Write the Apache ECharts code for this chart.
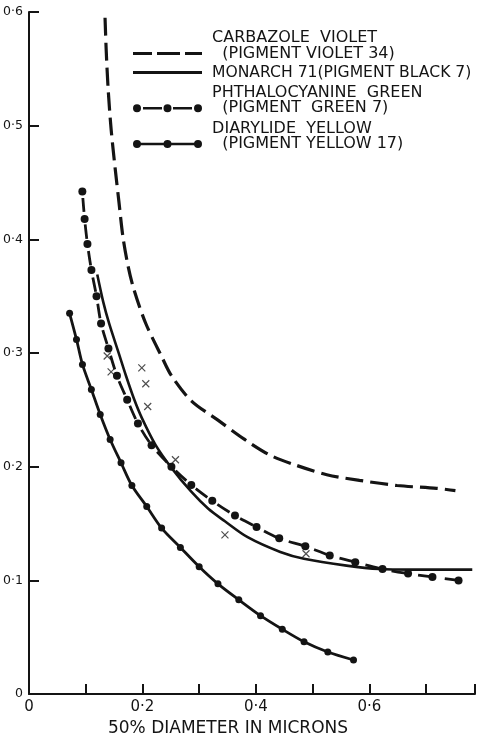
<!DOCTYPE html>
<html><head><meta charset="utf-8">
<script src="https://cdn.jsdelivr.net/npm/echarts@6/dist/echarts.min.js"></script>
<style>html,body{margin:0;padding:0;background:#fff}#c{width:478px;height:742px}</style>
</head><body><div id="c"></div>
<script>
// ---- tick labels ----
const xTickLabels = ['0', '', '0·2', '', '0·4', '', '0·6', ''];
const yTickLabels = ['0', '0·1', '0·2', '0·3', '0·4', '0·5', '0·6'];
const xAxisTitle = '50% DIAMETER IN MICRONS';

// ---- series names / legend labels ----
const violetName = 'CARBAZOLE VIOLET (PIGMENT VIOLET 34)';
const monarchName = 'MONARCH 71(PIGMENT BLACK 7)';
const greenName = 'PHTHALOCYANINE GREEN (PIGMENT GREEN 7)';
const yellowName = 'DIARYLIDE YELLOW (PIGMENT YELLOW 17)';
const violetLines = ['CARBAZOLE  VIOLET', '(PIGMENT VIOLET 34)'];
const monarchLines = ['MONARCH 71(PIGMENT BLACK 7)'];
const greenLines = ['PHTHALOCYANINE  GREEN', '(PIGMENT  GREEN 7)'];
const yellowLines = ['DIARYLIDE  YELLOW', '(PIGMENT YELLOW 17)'];

// ---- data ----
const violetX = [0.134, 0.136, 0.1395, 0.1447, 0.1517, 0.1587, 0.1656, 0.1744, 0.1848, 0.2058, 0.2337, 0.2511, 0.286, 0.333, 0.380, 0.4255, 0.4725, 0.5248, 0.5824, 0.6486, 0.7184, 0.7515];
const violetY = [0.595, 0.567, 0.532, 0.497, 0.463, 0.432, 0.402, 0.377, 0.356, 0.326, 0.297, 0.280, 0.258, 0.241, 0.224, 0.210, 0.201, 0.193, 0.188, 0.1835, 0.181, 0.179];

const monarchX = [0.1203, 0.1308, 0.1412, 0.1587, 0.1709, 0.1848, 0.1988, 0.2232, 0.2511, 0.286, 0.316, 0.3453, 0.3853, 0.4429, 0.4847, 0.5597, 0.6172, 0.6765, 0.7812];
const monarchY = [0.369, 0.345, 0.326, 0.299, 0.280, 0.260, 0.243, 0.219, 0.199, 0.178, 0.163, 0.152, 0.138, 0.125, 0.119, 0.113, 0.110, 0.1095, 0.1095];

const greenX = [0.094, 0.098, 0.103, 0.110, 0.119, 0.127, 0.140, 0.155, 0.173, 0.192, 0.216, 0.251, 0.286, 0.323, 0.363, 0.401, 0.441, 0.487, 0.530, 0.575, 0.623, 0.668, 0.711, 0.757];
const greenY = [0.442, 0.418, 0.396, 0.373, 0.350, 0.326, 0.304, 0.280, 0.259, 0.238, 0.219, 0.200, 0.184, 0.170, 0.157, 0.147, 0.137, 0.130, 0.122, 0.116, 0.110, 0.106, 0.103, 0.100];

const yellowX = [0.0715, 0.0837, 0.0942, 0.1099, 0.1255, 0.143, 0.1622, 0.1813, 0.2075, 0.2337, 0.2668, 0.2999, 0.333, 0.3697, 0.408, 0.4464, 0.4847, 0.5266, 0.5719];
const yellowY = [0.335, 0.312, 0.290, 0.268, 0.246, 0.224, 0.2035, 0.1835, 0.165, 0.146, 0.129, 0.112, 0.097, 0.083, 0.069, 0.057, 0.046, 0.037, 0.030];

const crossX = [0.1378, 0.1447, 0.1988, 0.2058, 0.2092, 0.2581, 0.3453, 0.4882];
const crossY = [0.2974, 0.2835, 0.287, 0.273, 0.253, 0.2061, 0.140, 0.1235];

const zip = (xs, ys) => xs.map((x, i) => [x, ys[i]]);
const INK = '#141414';
const FONT = 'DejaVu Sans';

// legend icon shapes (69 x 8 box)
const iconDash = 'path://M0,0H19V3H0Z M24,0H47V3H24Z M52,0H69V3H52Z';
const iconSolid = 'path://M0,0H69V2.8H0Z';
const dot = cx => `M${cx - 4},4 A4,4 0 1,1 ${cx + 4},4 A4,4 0 1,1 ${cx - 4},4 Z`;
const iconDotDash = 'path://' + dot(4) + ' ' + dot(34.5) + ' ' + dot(65) +
  ' M10,2.7H29V5.3H10Z M40,2.7H59V5.3H40Z';
const iconDotSolid = 'path://' + dot(4) + ' ' + dot(34.5) + ' ' + dot(65) +
  ' M7.5,2.7H31V5.3H7.5Z M38,2.7H61.5V5.3H38Z';

function legendText(lines) {
  if (lines.length === 1) return ' ' + lines[0];
  return ' ' + lines[0] + '\n   ' + lines[1] + '\n ';
}
function makeLegend(name, icon, lines, top, size) {
  return {
    data: [{ name: name, icon: icon }],
    left: 133, top: top, padding: 0,
    itemWidth: 69, itemHeight: 8,
    symbolKeepAspect: true,
    selectedMode: false,
    itemStyle: { color: INK, borderWidth: 0 },
    formatter: () => legendText(lines),
    textStyle: { fontFamily: FONT, fontSize: size, lineHeight: 15.5, color: INK }
  };
}

const chart = echarts.init(document.getElementById('c'), null, { renderer: 'canvas' });
chart.setOption({
  animation: false,
  backgroundColor: '#fff',
  color: [INK],
  grid: { left: 29, right: -2, top: 12, bottom: 40, containLabel: false },
  legend: [
    makeLegend(violetName, iconDash, violetLines, 30, 16),
    makeLegend(monarchName, iconSolid, monarchLines, 64.5, 15.6),
    makeLegend(greenName, iconDotDash, greenLines, 84.75, 16),
    makeLegend(yellowName, iconDotSolid, yellowLines, 120.5, 16)
  ],
  xAxis: {
    type: 'value', min: 0, max: 0.786, interval: 0.1,
    axisLine: { show: true, onZero: false, lineStyle: { color: INK, width: 2 } },
    axisTick: { show: true, inside: true, length: 10, lineStyle: { color: INK, width: 2 } },
    splitLine: { show: false },
    axisLabel: {
      margin: 6, fontFamily: FONT, fontSize: 15, color: INK,
      formatter: v => { const k = v * 10, r = Math.round(k); return Math.abs(k - r) < 1e-6 ? (xTickLabels[r] || '') : ''; }
    },
    name: xAxisTitle, nameLocation: 'middle', nameGap: 22,
    nameTextStyle: { fontFamily: FONT, fontSize: 17, color: INK, padding: [0, 48, 0, 0] }
  },
  yAxis: {
    type: 'value', min: 0, max: 0.6, interval: 0.1,
    axisLine: { show: true, lineStyle: { color: INK, width: 2 } },
    axisTick: { show: true, inside: true, length: 10, lineStyle: { color: INK, width: 2 } },
    splitLine: { show: false },
    axisLabel: {
      margin: 6, fontFamily: FONT, fontSize: 12.5, color: INK,
      formatter: v => yTickLabels[Math.round(v * 10)] || ''
    }
  },
  series: [
    {
      name: violetName, type: 'line', data: zip(violetX, violetY),
      symbol: 'none', smooth: 0.3,
      itemStyle: { color: INK },
      lineStyle: { color: INK, width: 3.2, type: [18, 7] }
    },
    {
      name: monarchName, type: 'line', data: zip(monarchX, monarchY),
      symbol: 'none', smooth: 0.3,
      itemStyle: { color: INK },
      lineStyle: { color: INK, width: 2.6 }
    },
    {
      name: greenName, type: 'line', data: zip(greenX, greenY),
      symbol: 'circle', symbolSize: 8, showAllSymbol: true, smooth: 0.3,
      itemStyle: { color: INK, borderWidth: 0 },
      lineStyle: { color: INK, width: 2.8, type: [14, 12.8], dashOffset: 20.4 }
    },
    {
      name: yellowName, type: 'line', data: zip(yellowX, yellowY),
      symbol: 'circle', symbolSize: 7, showAllSymbol: true, smooth: 0.3,
      itemStyle: { color: INK, borderWidth: 0 },
      lineStyle: { color: INK, width: 2.8 }
    },
    {
      name: 'points', type: 'scatter', data: zip(crossX, crossY),
      symbol: 'path://M0,0L8,8M8,0L0,8', symbolSize: 7,
      itemStyle: { color: 'rgba(0,0,0,0)', borderColor: '#222', borderWidth: 1.2 }
    }
  ]
});
</script></body></html>
